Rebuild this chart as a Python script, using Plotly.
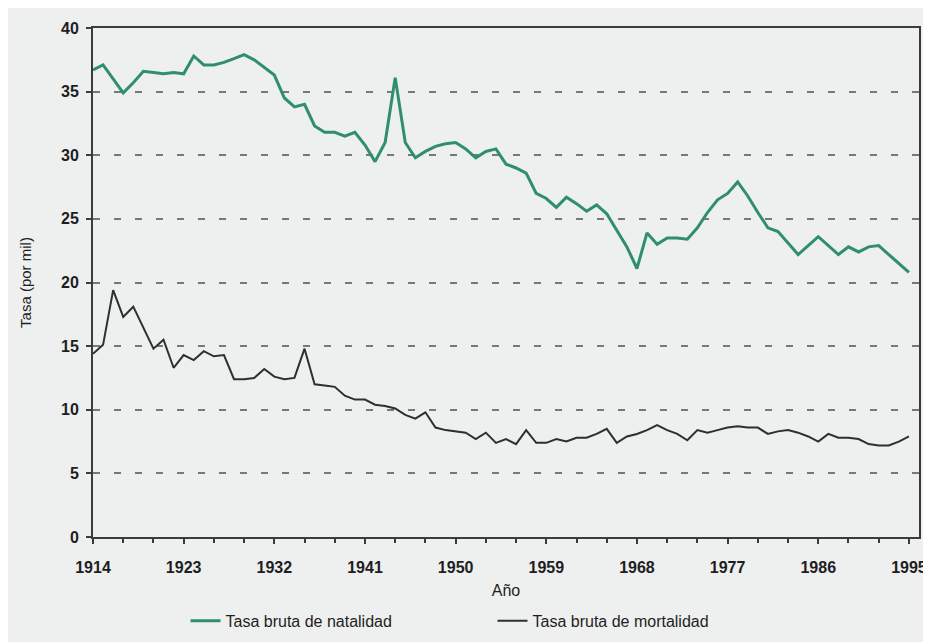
import plotly.graph_objects as go

years = list(range(1914, 1996))

natalidad = [
    36.7, 37.1, 36.0, 34.9, 35.7, 36.6, 36.5, 36.4, 36.5, 36.4,
    37.8, 37.1, 37.1, 37.3, 37.6, 37.9, 37.5, 36.9, 36.3, 34.5,
    33.8, 34.0, 32.3, 31.8, 31.8, 31.5, 31.8, 30.8, 29.5, 31.0,
    36.1, 31.0, 29.8, 30.3, 30.7, 30.9, 31.0, 30.5, 29.8, 30.3,
    30.5, 29.3, 29.0, 28.6, 27.0, 26.6, 25.9, 26.7, 26.2, 25.6,
    26.1, 25.4, 24.1, 22.8, 21.1, 23.9, 23.0, 23.5, 23.5, 23.4,
    24.3, 25.5, 26.5, 27.0, 27.9, 26.8, 25.5, 24.3, 24.0, 23.1,
    22.2, 22.9, 23.6, 22.9, 22.2, 22.8, 22.4, 22.8, 22.9, 22.2,
    21.5, 20.8,
]

mortalidad = [
    14.4, 15.1, 19.4, 17.3, 18.1, 16.4, 14.8, 15.5, 13.3, 14.3,
    13.9, 14.6, 14.2, 14.3, 12.4, 12.4, 12.5, 13.2, 12.6, 12.4,
    12.5, 14.8, 12.0, 11.9, 11.8, 11.1, 10.8, 10.8, 10.4, 10.3,
    10.1, 9.6, 9.3, 9.8, 8.6, 8.4, 8.3, 8.2, 7.7, 8.2,
    7.4, 7.7, 7.3, 8.4, 7.4, 7.4, 7.7, 7.5, 7.8, 7.8,
    8.1, 8.5, 7.4, 7.9, 8.1, 8.4, 8.8, 8.4, 8.1, 7.6,
    8.4, 8.2, 8.4, 8.6, 8.7, 8.6, 8.6, 8.1, 8.3, 8.4,
    8.2, 7.9, 7.5, 8.1, 7.8, 7.8, 7.7, 7.3, 7.2, 7.2,
    7.5, 7.9,
]

x_ticks = [1914, 1923, 1932, 1941, 1950, 1959, 1968, 1977, 1986, 1995]
y_ticks = [0, 5, 10, 15, 20, 25, 30, 35, 40]

BG = "#eef0ef"
FONT = "Liberation Sans, Arial, sans-serif"
INK = "#1e1e22"

fig = go.Figure()
fig.add_trace(go.Scatter(
    x=years, y=natalidad, mode="lines", name="Tasa bruta de natalidad",
    line=dict(color="#2f8f6c", width=3),
))
fig.add_trace(go.Scatter(
    x=years, y=mortalidad, mode="lines", name="Tasa bruta de mortalidad",
    line=dict(color="#2e2e33", width=2),
))

fig.update_layout(
    width=931, height=642,
    margin=dict(l=85, r=12, t=19, b=105),
    paper_bgcolor=BG, plot_bgcolor=BG,
    font=dict(family=FONT, color=INK, size=15),
    showlegend=True,
    legend=dict(
        orientation="h", x=0.112, xanchor="left", y=-0.198, yanchor="bottom",
        bgcolor="rgba(0,0,0,0)", font=dict(size=16, color=INK),
        itemwidth=30, entrywidth=262,
    ),
    xaxis=dict(
        range=[1914, 1996], tickmode="array", tickvals=x_ticks,
        ticktext=[str(v) for v in x_ticks],
        showgrid=False, zeroline=False,
        showline=True, linecolor="#3a3a40", linewidth=2, mirror=True,
        ticks="outside", ticklen=5, tickwidth=1.5, tickcolor="#3a3a40",
        minor=dict(dtick=3, tick0=1914, ticks="outside", ticklen=4, tickcolor="#3a3a40", showgrid=False),
        tickfont=dict(size=16, color=INK, weight="bold"),
        ticklabelstandoff=10,
        title=dict(text="Año", font=dict(size=16), standoff=10),
    ),
    yaxis=dict(
        range=[0, 40], tickmode="array", tickvals=y_ticks,
        showgrid=True, gridcolor="#77777c", gridwidth=2, griddash="7px,14px",
        zeroline=False,
        showline=True, linecolor="#3a3a40", linewidth=2, mirror=True,
        ticks="outside", ticklen=5, tickwidth=1.5, tickcolor="#3a3a40",
        tickfont=dict(size=16, color=INK, weight="bold"),
        ticklabelstandoff=4,
        title=dict(text="Tasa (por mil)", font=dict(size=15), standoff=26),
    ),
)

fig.write_html("out.html")
